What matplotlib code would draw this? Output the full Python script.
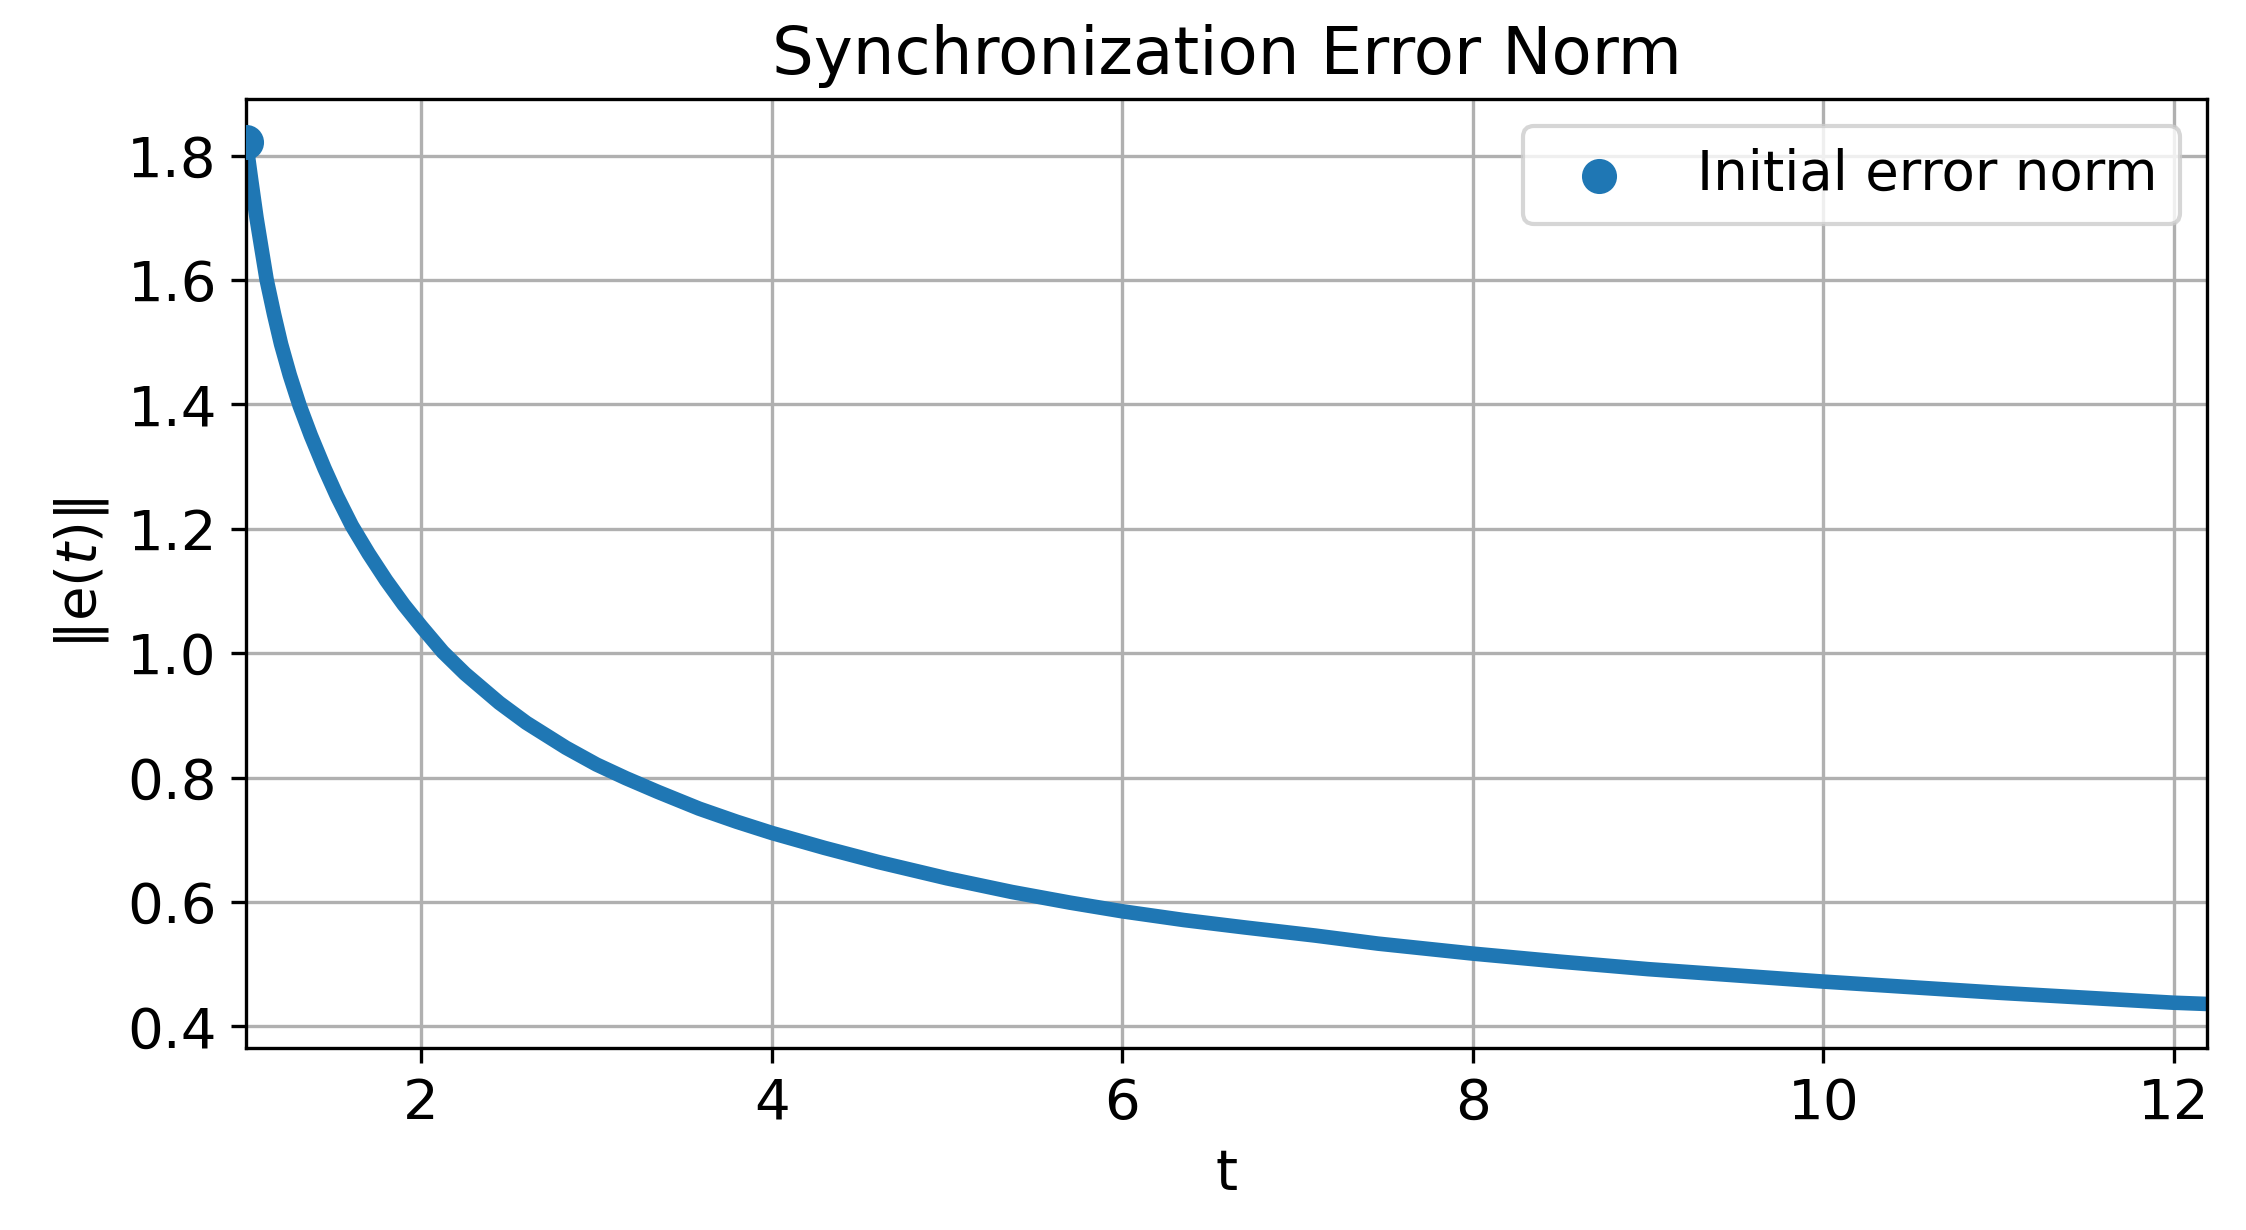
import matplotlib
matplotlib.use("Agg")
import matplotlib.pyplot as plt

# Data
t_values = [1.0, 1.03, 1.06, 1.09, 1.118, 1.16, 1.20, 1.25, 1.306, 1.37, 1.448,
            1.52, 1.604, 1.70, 1.80, 1.90, 2.0, 2.123, 2.25, 2.446, 2.6, 2.826,
            3.0, 3.168, 3.35, 3.586, 3.8, 4.0, 4.3, 4.611, 5.0, 5.371, 5.7, 6.0,
            6.35, 6.7, 7.1, 7.46, 8.0, 8.5, 9.0, 9.5, 10.0, 10.5, 11.0, 11.5,
            12.0, 12.19]
e_norm = [1.822, 1.760, 1.700, 1.648, 1.600, 1.545, 1.497, 1.447, 1.398, 1.350, 1.297,
          1.252, 1.205, 1.160, 1.117, 1.078, 1.043, 1.002, 0.967, 0.920, 0.888, 0.848,
          0.821, 0.799, 0.777, 0.750, 0.729, 0.711, 0.687, 0.664, 0.638, 0.616, 0.599, 0.585,
          0.571, 0.559, 0.546, 0.533, 0.517, 0.504, 0.492, 0.482, 0.472, 0.463, 0.454, 0.446,
          0.438, 0.436]
initial_t = [1.0]
initial_e = [1.822]
x_ticks = [2, 4, 6, 8, 10, 12]
y_ticks = [0.4, 0.6, 0.8, 1.0, 1.2, 1.4, 1.6, 1.8]

fig = plt.figure(figsize=(2246 / 300, 1230 / 300), dpi=300)
ax = fig.add_axes([246 / 2246, 1 - 1047.5 / 1230, (2207 - 246) / 2246, (1047.5 - 99) / 1230])

ax.plot(t_values, e_norm, color="#1f77b4", linewidth=3.5, solid_joinstyle="round")
ax.scatter(initial_t, initial_e, color="#1f77b4", s=55, zorder=3, label="Initial error norm")

ax.set_xlim(1.0, 12.19)
ax.set_ylim(0.366, 1.891)
ax.set_xticks(x_ticks)
ax.set_yticks(y_ticks)
ax.tick_params(labelsize=13.5)
ax.grid(True)

ax.set_title("Synchronization Error Norm", fontsize=15.8)
ax.set_xlabel("t", fontsize=13.5)
ax.set_ylabel(r"$\|\mathrm{e}(t)\|$", fontsize=13.5)
ax.legend(loc="upper right", fontsize=13.1)

fig.savefig("out.png", dpi=300)
